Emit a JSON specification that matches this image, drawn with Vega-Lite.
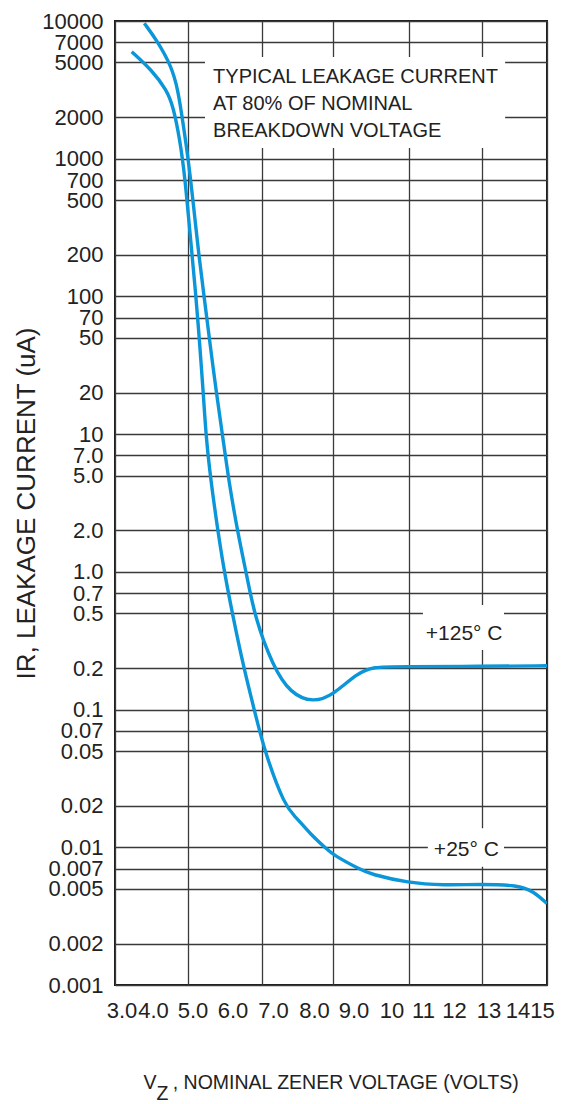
{
  "$schema": "https://vega.github.io/schema/vega-lite/v6.json",
  "width": 432,
  "height": 964,
  "autosize": {"type": "none"},
  "padding": {"left": 115, "top": 21, "right": 15, "bottom": 119},
  "background": "white",
  "config": {
    "font": "Liberation Sans",
    "view": {"stroke": "#1a1a1a", "strokeWidth": 2}
  },
  "layer": [
    {
      "layer": [
        {
          "data": {
            "values": [
              {"temp": "+125 C", "vz": 3.777, "ir": 9620},
              {"temp": "+125 C", "vz": 4.114, "ir": 7280},
              {"temp": "+125 C", "vz": 4.543, "ir": 4660},
              {"temp": "+125 C", "vz": 4.723, "ir": 3155},
              {"temp": "+125 C", "vz": 4.866, "ir": 1817},
              {"temp": "+125 C", "vz": 5.016, "ir": 990},
              {"temp": "+125 C", "vz": 5.152, "ir": 474},
              {"temp": "+125 C", "vz": 5.307, "ir": 194},
              {"temp": "+125 C", "vz": 5.451, "ir": 97.4},
              {"temp": "+125 C", "vz": 5.59, "ir": 49.1},
              {"temp": "+125 C", "vz": 5.78, "ir": 19.9},
              {"temp": "+125 C", "vz": 5.95, "ir": 9.69},
              {"temp": "+125 C", "vz": 6.11, "ir": 4.65},
              {"temp": "+125 C", "vz": 6.36, "ir": 1.88},
              {"temp": "+125 C", "vz": 6.592, "ir": 0.949},
              {"temp": "+125 C", "vz": 6.813, "ir": 0.462},
              {"temp": "+125 C", "vz": 7.295, "ir": 0.208},
              {"temp": "+125 C", "vz": 7.771, "ir": 0.131},
              {"temp": "+125 C", "vz": 8.429, "ir": 0.112},
              {"temp": "+125 C", "vz": 9.0, "ir": 0.128},
              {"temp": "+125 C", "vz": 9.626, "ir": 0.183},
              {"temp": "+125 C", "vz": 10.07, "ir": 0.205},
              {"temp": "+125 C", "vz": 10.775, "ir": 0.205},
              {"temp": "+125 C", "vz": 12.98, "ir": 0.206},
              {"temp": "+125 C", "vz": 15.0, "ir": 0.208},
              {"temp": "+25 C", "vz": 3.443, "ir": 5990},
              {"temp": "+25 C", "vz": 3.973, "ir": 4410},
              {"temp": "+25 C", "vz": 4.4, "ir": 3155},
              {"temp": "+25 C", "vz": 4.589, "ir": 2385},
              {"temp": "+25 C", "vz": 4.777, "ir": 1367},
              {"temp": "+25 C", "vz": 4.92, "ir": 740},
              {"temp": "+25 C", "vz": 5.0625, "ir": 287},
              {"temp": "+25 C", "vz": 5.226, "ir": 99.5},
              {"temp": "+25 C", "vz": 5.315, "ir": 49.1},
              {"temp": "+25 C", "vz": 5.424, "ir": 19.9},
              {"temp": "+25 C", "vz": 5.497, "ir": 9.69},
              {"temp": "+25 C", "vz": 5.625, "ir": 4.65},
              {"temp": "+25 C", "vz": 5.832, "ir": 1.88},
              {"temp": "+25 C", "vz": 6.01, "ir": 0.949},
              {"temp": "+25 C", "vz": 6.235, "ir": 0.462},
              {"temp": "+25 C", "vz": 6.501, "ir": 0.208},
              {"temp": "+25 C", "vz": 6.813, "ir": 0.0949},
              {"temp": "+25 C", "vz": 7.083, "ir": 0.0484},
              {"temp": "+25 C", "vz": 7.634, "ir": 0.0197},
              {"temp": "+25 C", "vz": 7.91, "ir": 0.0168},
              {"temp": "+25 C", "vz": 8.334, "ir": 0.0125},
              {"temp": "+25 C", "vz": 8.811, "ir": 0.0097},
              {"temp": "+25 C", "vz": 9.0, "ir": 0.0088},
              {"temp": "+25 C", "vz": 9.714, "ir": 0.0069},
              {"temp": "+25 C", "vz": 9.98, "ir": 0.0064},
              {"temp": "+25 C", "vz": 11.0, "ir": 0.0055},
              {"temp": "+25 C", "vz": 11.99, "ir": 0.0053},
              {"temp": "+25 C", "vz": 12.97, "ir": 0.0054},
              {"temp": "+25 C", "vz": 13.98, "ir": 0.0053},
              {"temp": "+25 C", "vz": 14.51, "ir": 0.0048},
              {"temp": "+25 C", "vz": 15.0, "ir": 0.0039}
            ]
          },
          "mark": {"type": "line", "interpolate": "basis", "color": "#0a96d8", "strokeWidth": 3.4, "clip": true},
          "encoding": {
            "x": {
              "field": "vz",
              "type": "quantitative",
              "scale": {"domain": [3, 4, 5, 6, 7, 8, 9, 10, 11, 12, 13, 14, 15], "range": [0, 37.7, 72.7, 109.5, 147, 183.5, 218.3, 255.7, 293.5, 328.7, 366.5, 404, 432], "nice": false, "zero": false},
              "axis": {
                "values": [3, 4, 5, 6, 7, 8, 9, 10, 11, 12, 13, 14, 15],
                "grid": true,
                "labels": false,
                "ticks": false,
                "domain": false,
                "gridColor": "#3a3a3a",
                "gridWidth": 1.3,
                "title": "Z",
                "titleFont": "Liberation Sans",
                "titleFontSize": 19.5,
                "titleFontWeight": "normal",
                "titleColor": "#222222",
                "titleAlign": "left",
                "titleBaseline": "alphabetic",
                "titleX": 41,
                "titleY": 114
              }
            },
            "y": {
              "field": "ir",
              "type": "quantitative",
              "scale": {"type": "log", "domain": [0.001, 10000], "nice": false},
              "axis": {
                "values": [0.001, 0.002, 0.005, 0.007, 0.01, 0.02, 0.05, 0.07, 0.1, 0.2, 0.5, 0.7, 1, 2, 5, 7, 10, 20, 50, 70, 100, 200, 500, 700, 1000, 2000, 5000, 7000, 10000],
                "grid": true,
                "gridColor": "#3a3a3a",
                "gridWidth": 1.3,
                "ticks": false,
                "domain": false,
                "labelExpr": "datum.value >= 10 ? format(datum.value, 'd') : (datum.value >= 1 ? format(datum.value, '.1f') : '' + datum.value)",
                "labelFont": "Liberation Sans",
                "labelFontSize": 22,
                "labelColor": "#222222",
                "labelPadding": 12,
                "labelBaseline": "middle",
                "labelOverlap": false,
                "labelFlush": false,
                "title": "IR,  LEAKAGE CURRENT (uA)",
                "titleFont": "Liberation Sans",
                "titleFontSize": 26,
                "titleFontWeight": "normal",
                "titleColor": "#222222",
                "titleBaseline": "alphabetic",
                "titleX": -81,
                "titleY": 482
              }
            },
            "detail": {"field": "temp", "type": "nominal"}
          }
        },
        {
          "data": {"values": [{}]},
          "mark": {"type": "rect", "fill": "white"},
          "encoding": {
            "x": {"datum": 5.47},
            "x2": {"datum": 13.63},
            "y": {"datum": 5479},
            "y2": {"datum": 1196}
          }
        },
        {
          "data": {"values": [{}]},
          "mark": {"type": "rect", "fill": "white"},
          "encoding": {
            "x": {"datum": 11.41},
            "x2": {"datum": 13.6},
            "y": {"datum": 0.574},
            "y2": {"datum": 0.2704}
          }
        },
        {
          "data": {"values": [{}]},
          "mark": {"type": "rect", "fill": "white"},
          "encoding": {
            "x": {"datum": 11.55},
            "x2": {"datum": 13.6},
            "y": {"datum": 0.01374},
            "y2": {"datum": 0.00723}
          }
        },
        {
          "data": {"values": [{}]},
          "mark": {"type": "text", "text": ["TYPICAL LEAKAGE CURRENT", "AT 80% OF NOMINAL", "BREAKDOWN VOLTAGE"], "align": "left", "baseline": "alphabetic", "lineHeight": 27, "font": "Liberation Sans", "fontSize": 20, "color": "#222222"},
          "encoding": {
            "x": {"datum": 5.69},
            "y": {"datum": 3546}
          }
        },
        {
          "data": {"values": [{}]},
          "mark": {"type": "text", "text": "+125° C", "align": "center", "baseline": "alphabetic", "font": "Liberation Sans", "fontSize": 21, "color": "#222222"},
          "encoding": {
            "x": {"datum": 12.54},
            "y": {"datum": 0.318}
          }
        },
        {
          "data": {"values": [{}]},
          "mark": {"type": "text", "text": "+25° C", "align": "center", "baseline": "alphabetic", "font": "Liberation Sans", "fontSize": 21, "color": "#222222"},
          "encoding": {
            "x": {"datum": 12.6},
            "y": {"datum": 0.00864}
          }
        }
      ]
    },
    {
      "data": {"values": [{"v": 3}, {"v": 4}, {"v": 5}, {"v": 6}, {"v": 7}, {"v": 8}, {"v": 9}, {"v": 10}, {"v": 11}, {"v": 12}, {"v": 13}, {"v": 14}, {"v": 15}]},
      "mark": {"type": "point", "opacity": 0},
      "encoding": {
        "x": {
          "field": "v",
          "type": "quantitative",
          "scale": {"domain": [3, 4, 5, 6, 7, 8, 9, 10, 11, 12, 13, 14, 15], "range": [6.5, 38, 77.5, 117.5, 158, 199, 238.5, 276.5, 308, 339, 373.5, 402.5, 427], "nice": false, "zero": false},
          "axis": {
            "orient": "bottom",
            "values": [3, 4, 5, 6, 7, 8, 9, 10, 11, 12, 13, 14, 15],
            "grid": false,
            "ticks": false,
            "domain": false,
            "labelExpr": "datum.value < 10 ? format(datum.value, '.1f') : format(datum.value, 'd')",
            "labelFont": "Liberation Sans",
            "labelFontSize": 22,
            "labelColor": "#222222",
            "labelBaseline": "alphabetic",
            "labelPadding": 32,
            "labelFlush": false,
            "labelOverlap": false,
            "title": "V\u00a0\u00a0\u00a0, NOMINAL ZENER VOLTAGE (VOLTS)",
            "titleFont": "Liberation Sans",
            "titleFontSize": 19.5,
            "titleFontWeight": "normal",
            "titleColor": "#222222",
            "titleAlign": "left",
            "titleBaseline": "alphabetic",
            "titleX": 28,
            "titleY": 103
          }
        }
      }
    }
  ],
  "resolve": {"scale": {"x": "independent"}}
}
